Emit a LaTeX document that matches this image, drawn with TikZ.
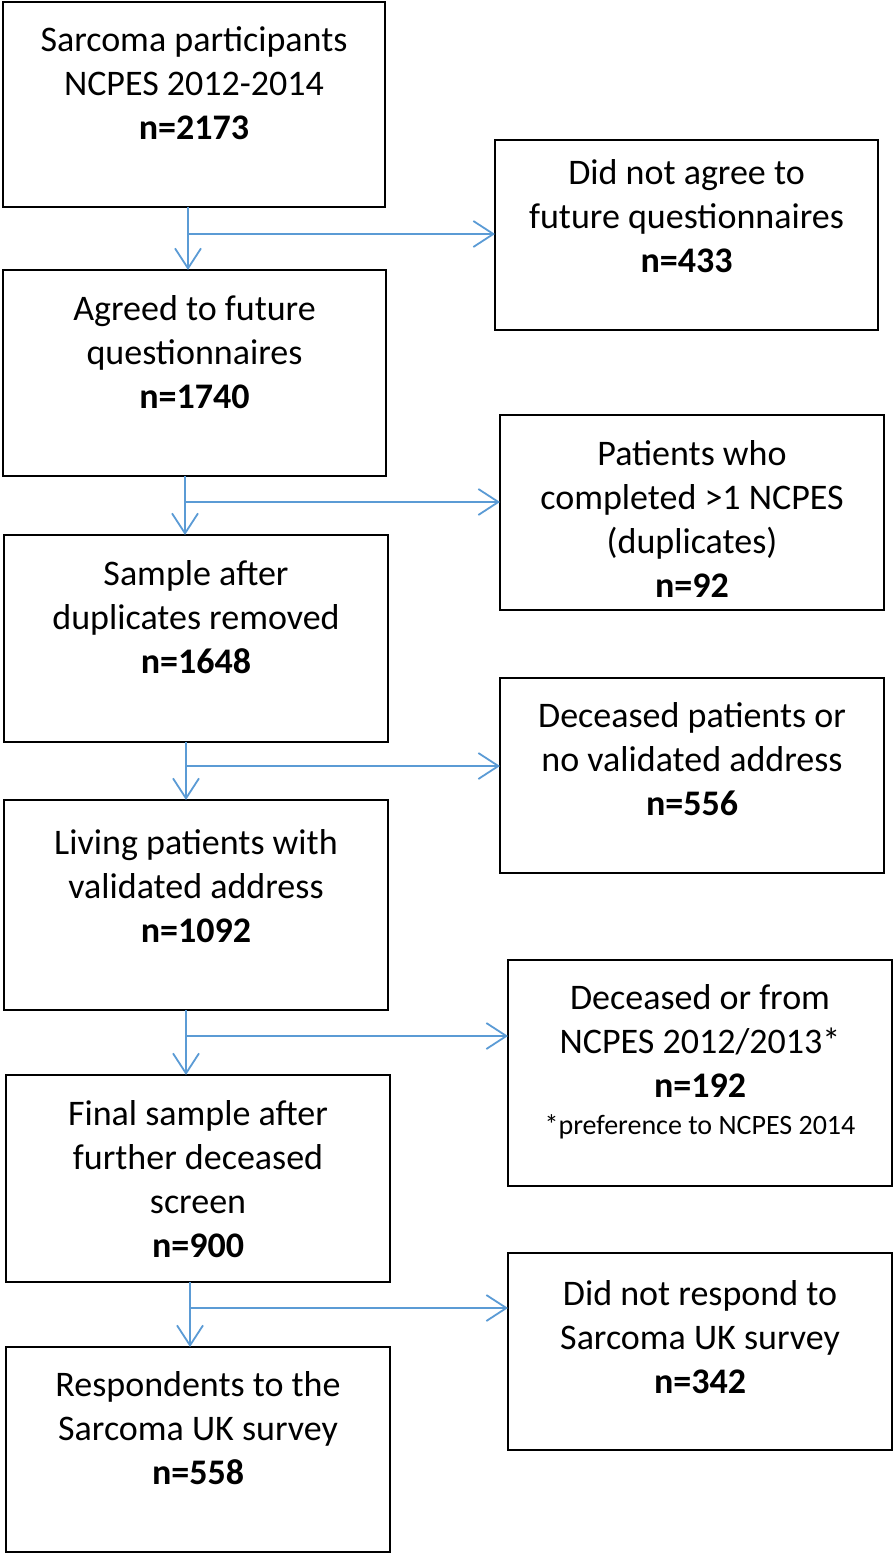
\documentclass[tikz,border=0pt]{standalone}
\usepackage{fontspec}
\setmainfont{Carlito}
\usetikzlibrary{arrows.meta}
\definecolor{arrblue}{RGB}{91,155,213}
\tikzset{
  boxstyle/.style={draw=black, line width=2.5pt, inner sep=0pt, outer sep=0pt},
  txt/.style={font=\fontsize{36}{44}\selectfont, align=center, inner sep=0pt, anchor=north},
  smalltxt/.style={font=\fontsize{28}{32}\selectfont, inner sep=0pt, anchor=base},
  arr/.style={draw=arrblue, line width=1.8pt, -{Straight Barb[length=20pt,width=26pt]}},
}
\newcommand\mybox[5]{%
  \node[boxstyle, minimum width=#4-#2, minimum height=#5-#3] (#1) at ({(#2+#4)/2},{(#3+#5)/2}) {};}
\begin{document}
\begin{tikzpicture}[x=1pt,y=-1pt]
\useasboundingbox (0,0) rectangle (894,1554);
% left column
\mybox{b1}{3}{2}{385}{207}
\mybox{b2}{3}{270}{386}{476}
\mybox{b3}{4}{535}{388}{742}
\mybox{b4}{4}{800}{388}{1010}
\mybox{b5}{6}{1075}{390}{1282}
\mybox{b6}{6}{1347}{390}{1552}
% right column
\mybox{r1}{495}{140}{878}{330}
\mybox{r2}{500}{415}{884}{610}
\mybox{r3}{500}{678}{884}{873}
\mybox{r4}{508}{960}{892}{1186}
\mybox{r5}{508}{1253}{892}{1450}
% texts
\node[txt] (t1) at ([yshift=-19pt]b1.north) {\strut Sarcoma participants\\NCPES 2012-2014\\\textbf{n=2173}};
\node[txt] (t2) at ([yshift=-19pt]b2.north) {\strut Agreed to future\\questionnaires\\\textbf{n=1740}};
\node[txt] (t3) at ([yshift=-19pt]b3.north) {\strut Sample after\\duplicates removed\\\textbf{n=1648}};
\node[txt] (t4) at ([yshift=-23pt]b4.north) {\strut Living patients with\\validated address\\\textbf{n=1092}};
\node[txt] (t5) at ([yshift=-19pt]b5.north) {\strut Final sample after\\further deceased\\screen\\\textbf{n=900}};
\node[txt] (t6) at ([yshift=-18pt]b6.north) {\strut Respondents to the\\Sarcoma UK survey\\\textbf{n=558}};
\node[txt] (u1) at ([yshift=-14pt]r1.north) {\strut Did not agree to\\future questionnaires\\\textbf{n=433}};
\node[txt] (u2) at ([yshift=-19pt]r2.north) {\strut Patients who\\completed >1 NCPES\\(duplicates)\\\textbf{n=92}};
\node[txt] (u3) at ([yshift=-18pt]r3.north) {\strut Deceased patients or\\no validated address\\\textbf{n=556}};
\node[txt] (u4) at ([yshift=-18pt]r4.north) {\strut Deceased or from\\NCPES 2012/2013*\\\textbf{n=192}};
\node[smalltxt] (u4b) at (700,1134) {*preference to NCPES 2014};
\node[txt] (u5) at ([yshift=-21pt]r5.north) {\strut Did not respond to\\Sarcoma UK survey\\\textbf{n=342}};
% split points
\coordinate (s1) at (188,234);
\coordinate (s2) at (185,502);
\coordinate (s3) at (186,766);
\coordinate (s4) at (186,1036);
\coordinate (s5) at (190,1308);
% connectors
\draw[arr] (b1.south -| s1) -- (b2.north -| s1);
\draw[arr] (s1) -- (r1.west |- s1);
\draw[arr] (b2.south -| s2) -- (b3.north -| s2);
\draw[arr] (s2) -- (r2.west |- s2);
\draw[arr] (b3.south -| s3) -- (b4.north -| s3);
\draw[arr] (s3) -- (r3.west |- s3);
\draw[arr] (b4.south -| s4) -- (b5.north -| s4);
\draw[arr] (s4) -- (r4.west |- s4);
\draw[arr] (b5.south -| s5) -- (b6.north -| s5);
\draw[arr] (s5) -- (r5.west |- s5);
\end{tikzpicture}
\end{document}
